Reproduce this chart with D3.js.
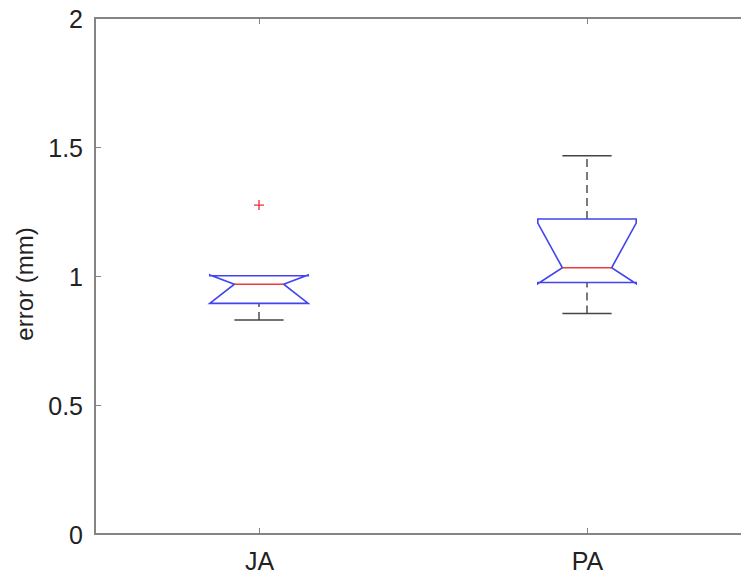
<!DOCTYPE html>
<html>
<head>
<meta charset="utf-8">
<script src="https://cdn.jsdelivr.net/npm/d3@7"></script>
<style>
  html, body { margin: 0; padding: 0; background: #fff; }
  svg { display: block; font-family: Arial, "Liberation Sans", Helvetica, sans-serif; }
</style>
</head>
<body>
<svg id="chart" width="741" height="575"></svg>
<script>
// box statistics (error in mm)
const groups = ["JA", "PA"];
const q1 = [0.894, 0.975];
const medians = [0.968, 1.032];
const q3 = [1.001, 1.221];
const notchLo = [0.894, 0.970];
const notchHi = [1.004, 1.205];
const whiskerLo = [0.829, 0.855];
const whiskerHi = [1.001, 1.466];
const outliers = [[1.275], []];
const yTicks = [0, 0.5, 1, 1.5, 2];

const svg = d3.select("#chart");

// axes box (right edge runs off the picture)
const plotLeft = 95, plotRight = 751, plotTop = 18, plotBottom = 534;

const x = d3.scaleLinear().domain([0.5, 2.5]).range([plotLeft, plotRight]);
const y = d3.scaleLinear().domain([0, 2]).range([plotBottom, plotTop]);

const boxHalf = 0.15;   // half box width, in x units
const notchHalf = 0.075;
const capHalf = 0.075;

const axisColor = "#858585";

// frame
svg.append("rect")
  .attr("x", plotLeft).attr("y", plotTop)
  .attr("width", plotRight - plotLeft).attr("height", plotBottom - plotTop)
  .attr("fill", "none")
  .attr("stroke", axisColor)
  .attr("stroke-width", 2);

// y axis, ticks inside
const yAxis = svg.append("g")
  .attr("transform", `translate(${plotLeft},0)`)
  .call(d3.axisLeft(y).tickValues(yTicks).tickSizeInner(-6).tickSizeOuter(0).tickPadding(12)
    .tickFormat(d3.format("")));
yAxis.select(".domain").remove();
yAxis.selectAll("line").attr("stroke", axisColor).attr("stroke-width", 1);
yAxis.selectAll("text")
  .attr("font-size", 25)
  .attr("fill", "#222")
  .attr("dy", "0.36em");

// mirrored ticks on the right
svg.append("g")
  .attr("transform", `translate(${plotRight},0)`)
  .call(d3.axisRight(y).tickValues(yTicks).tickSizeInner(-6).tickSizeOuter(0).tickFormat(""))
  .call(g => g.select(".domain").remove())
  .selectAll("line").attr("stroke", axisColor).attr("stroke-width", 1);

// x axis
const xAxis = svg.append("g")
  .attr("transform", `translate(0,${plotBottom})`)
  .call(d3.axisBottom(x).tickValues([1, 2]).tickSizeInner(-6).tickSizeOuter(0).tickPadding(12)
    .tickFormat((d) => groups[d - 1]));
xAxis.select(".domain").remove();
xAxis.selectAll("line").attr("stroke", axisColor).attr("stroke-width", 1);
xAxis.selectAll("text")
  .attr("font-size", 25)
  .attr("fill", "#222")
  .attr("dy", "0.95em");

// top ticks
svg.append("g")
  .attr("transform", `translate(0,${plotTop})`)
  .call(d3.axisTop(x).tickValues([1, 2]).tickSizeInner(-6).tickSizeOuter(0).tickFormat(""))
  .call(g => g.select(".domain").remove())
  .selectAll("line").attr("stroke", axisColor).attr("stroke-width", 1);

// y label
svg.append("text")
  .attr("transform", `translate(33,284) rotate(-90)`)
  .attr("text-anchor", "middle")
  .attr("font-size", 24)
  .attr("fill", "#222")
  .text("error (mm)");

// boxes
const stats = groups.map((g, i) => ({
  name: g, pos: i + 1,
  q1: q1[i], med: medians[i], q3: q3[i],
  nlo: notchLo[i], nhi: notchHi[i],
  wlo: whiskerLo[i], whi: whiskerHi[i],
  out: outliers[i]
}));

const plot = svg.append("g").attr("class", "boxes");

const box = plot.selectAll("g.box")
  .data(stats)
  .join("g")
  .attr("class", "box");

// whiskers (dashed) and caps
box.each(function (d) {
  const g = d3.select(this);
  const segs = [[d.q3, d.whi], [d.wlo, d.q1]].filter((s) => s[1] - s[0] > 0.002);
  g.selectAll("line.whisker")
    .data(segs)
    .join("line")
    .attr("class", "whisker")
    .attr("x1", x(d.pos)).attr("x2", x(d.pos))
    .attr("y1", (s) => y(s[0])).attr("y2", (s) => y(s[1]))
    .attr("stroke", "#333")
    .attr("stroke-width", 1.3)
    .attr("stroke-dasharray", "8,5");

  const caps = [d.wlo, d.whi].filter((v) => Math.abs(v - d.q3) > 0.002);
  g.selectAll("line.cap")
    .data(caps)
    .join("line")
    .attr("class", "cap")
    .attr("x1", x(d.pos - capHalf)).attr("x2", x(d.pos + capHalf))
    .attr("y1", (v) => y(v)).attr("y2", (v) => y(v))
    .attr("stroke", "#444")
    .attr("stroke-width", 1.5);
});

// notched box outline
const line = d3.line();
box.append("path")
  .attr("d", (d) => {
    const xl = x(d.pos - boxHalf), xr = x(d.pos + boxHalf);
    const nl = x(d.pos - notchHalf), nr = x(d.pos + notchHalf);
    return line([
      [xl, y(d.q1)], [xl, y(d.nlo)], [nl, y(d.med)], [xl, y(d.nhi)], [xl, y(d.q3)],
      [xr, y(d.q3)], [xr, y(d.nhi)], [nr, y(d.med)], [xr, y(d.nlo)], [xr, y(d.q1)]
    ]) + "Z";
  })
  .attr("fill", "none")
  .attr("stroke", "#4343f0")
  .attr("stroke-width", 1.6)
  .attr("stroke-linejoin", "miter");

// median
box.append("line")
  .attr("x1", (d) => x(d.pos - notchHalf))
  .attr("x2", (d) => x(d.pos + notchHalf))
  .attr("y1", (d) => y(d.med))
  .attr("y2", (d) => y(d.med))
  .attr("stroke", "#ee3a3a")
  .attr("stroke-width", 1.4);

// outliers as red plus signs
box.selectAll("path.outlier")
  .data((d) => d.out.map((v) => ({ pos: d.pos, v })))
  .join("path")
  .attr("class", "outlier")
  .attr("d", (o) => {
    const cx = x(o.pos), cy = y(o.v);
    return `M${cx - 5},${cy}H${cx + 5}M${cx},${cy - 5}V${cy + 5}`;
  })
  .attr("stroke", "#ee3030")
  .attr("stroke-width", 1.3)
  .attr("fill", "none");
</script>
</body>
</html>
